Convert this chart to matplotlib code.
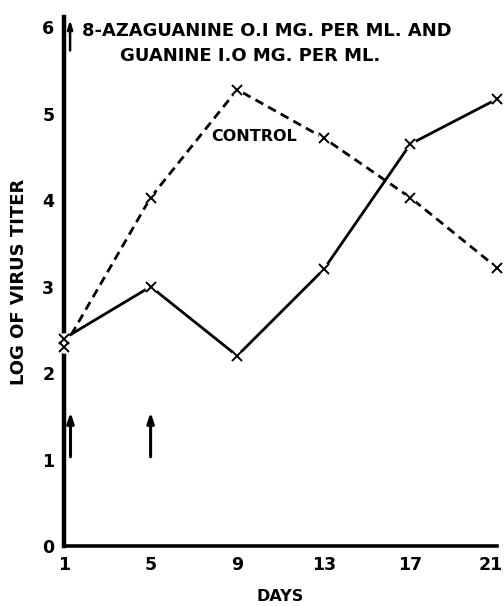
import matplotlib
matplotlib.use("Agg")
import matplotlib.pyplot as plt
import matplotlib.transforms as mtransforms

days = [1, 5, 9, 13, 17, 21]
treated = [2.4, 3.0, 2.2, 3.2, 4.65, 5.17]
control = [2.3, 4.03, 5.28, 4.72, 4.03, 3.22]
xticks = [1, 5, 9, 13, 17, 21]
yticks = [0, 1, 2, 3, 4, 5, 6]
arrow_days = [1.3, 5.0]

fig = plt.figure(figsize=(5.04, 6.06), dpi=100)
ax = fig.add_axes([0.127, 0.099, 0.859, 0.873])
ax.set_xlim(1, 21)
ax.set_ylim(0, 6.12)

for side in ["top", "right"]:
    ax.spines[side].set_visible(False)
ax.spines["left"].set_linewidth(3.2)
ax.spines["bottom"].set_linewidth(2.6)

ax.set_xticks(xticks)
ax.set_yticks(yticks)
ax.tick_params(length=0, labelsize=12.5, pad=7)
for lab in ax.get_xticklabels() + ax.get_yticklabels():
    lab.set_fontweight("bold")
last = ax.get_xticklabels()[-1]
last.set_transform(last.get_transform() + mtransforms.ScaledTranslation(-6 / 100, 0, fig.dpi_scale_trans))

ax.plot(days, treated, color="black", lw=2.0, zorder=3, clip_on=False)
ax.plot(days, control, color="black", lw=2.0, ls=(0, (3.2, 2.0)), zorder=3, clip_on=False)
for ser in (treated, control):
    ax.plot(days, ser, ls="none", marker="o", ms=9, mfc="white", mec="none", zorder=4, clip_on=False)
    ax.plot(days, ser, ls="none", marker="x", ms=7, mew=1.4, color="black", zorder=5, clip_on=False)

for d in arrow_days:
    ax.annotate("", xy=(d, 1.58), xytext=(d, 1.0),
                arrowprops=dict(arrowstyle="-|>,head_length=0.6,head_width=0.2", lw=2.2, color="black"))
ax.annotate("", xy=(1.28, 6.12), xytext=(1.28, 5.7),
            arrowprops=dict(arrowstyle="-|>,head_length=0.5,head_width=0.15", lw=1.8, color="black"),
            annotation_clip=False)

ax.text(1.83, 5.96, "8-AZAGUANINE O.I MG. PER ML. AND", fontsize=12.9, fontweight="bold",
        va="center", ha="left")
ax.text(9.6, 5.67, "GUANINE I.O MG. PER ML.", fontsize=13.0, fontweight="bold",
        va="center", ha="center")
ax.text(9.8, 4.74, "CONTROL", fontsize=11.5, fontweight="bold", va="center", ha="center")

ax.set_xlabel("DAYS", fontsize=11.5, fontweight="bold", labelpad=11)
ax.set_ylabel("LOG OF VIRUS TITER", fontsize=13, fontweight="bold", labelpad=10)

fig.savefig("out.png", dpi=100)
